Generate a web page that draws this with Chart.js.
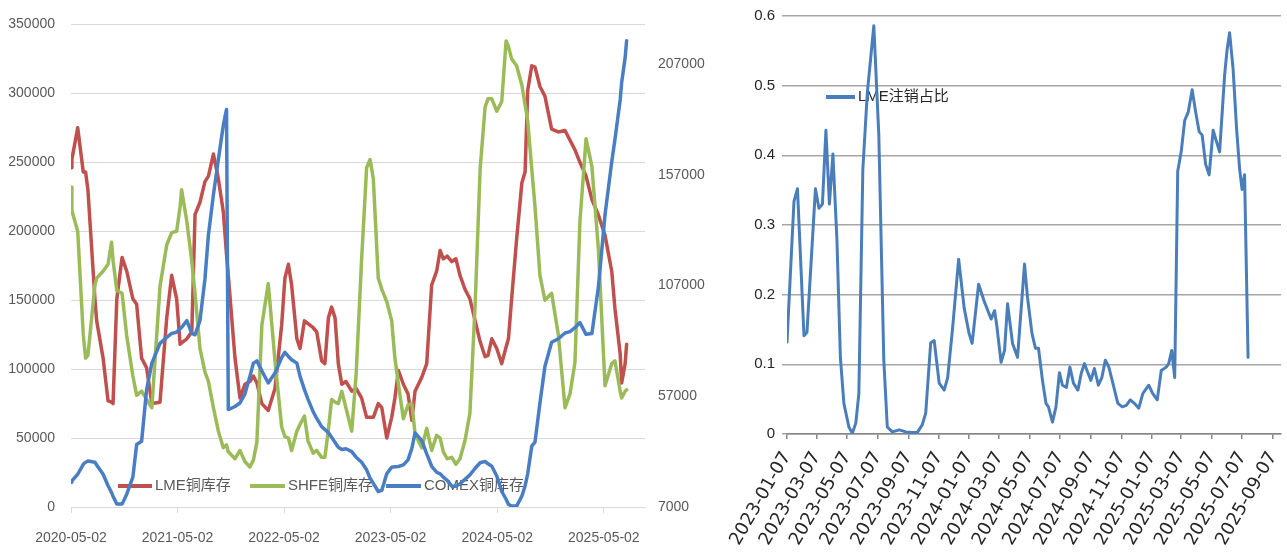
<!DOCTYPE html>
<html>
<head>
<meta charset="utf-8">
<title>铜库存与LME注销占比</title>
<script src="https://cdn.jsdelivr.net/npm/chart.js@4.4.1/dist/chart.umd.min.js"></script>
<style>
  html, body { margin: 0; padding: 0; background: #fff; }
  #wrap { position: relative; width: 1287px; height: 552px; overflow: hidden; }
  #stockChart { position: absolute; left: 0; top: 0; }
  #ratioChart { position: absolute; left: 712px; top: 0; }
</style>
</head>
<body>
<div id="wrap">
  <canvas id="stockChart" width="712" height="552"></canvas>
  <canvas id="ratioChart" width="575" height="552"></canvas>
</div>
<script>
// ---- left chart: copper stocks (LME / SHFE on left axis, COMEX on right axis)
var stockDates = [
  '2020-05-02','2020-05-05','2020-05-25','2020-06-13','2020-06-21','2020-06-29','2020-07-23','2020-07-29','2020-08-20','2020-09-06',
  '2020-09-18','2020-09-23','2020-10-06','2020-10-24','2020-11-09','2020-11-30','2020-12-13','2020-12-30','2021-01-16','2021-02-03',
  '2021-03-03','2021-03-26','2021-04-12','2021-04-29','2021-05-11','2021-05-16','2021-06-03','2021-06-20','2021-07-01','2021-07-18',
  '2021-08-04','2021-08-16','2021-09-02','2021-09-19','2021-10-06','2021-10-17','2021-10-23','2021-11-15','2021-12-02','2021-12-19',
  '2022-01-05','2022-01-17','2022-01-29','2022-02-15','2022-03-09','2022-04-01','2022-04-24','2022-05-05','2022-05-17','2022-05-28',
  '2022-06-15','2022-06-26','2022-07-11','2022-07-23','2022-08-10','2022-08-22','2022-09-08','2022-09-19','2022-10-01','2022-10-12',
  '2022-10-24','2022-11-04','2022-11-16','2022-11-30','2022-12-20','2023-01-04','2023-01-23','2023-02-09','2023-02-21','2023-03-04',
  '2023-03-21','2023-04-02','2023-04-19','2023-05-06','2023-05-17','2023-05-29','2023-06-15','2023-07-01','2023-07-14','2023-07-25',
  '2023-08-17','2023-09-03','2023-09-20','2023-10-07','2023-10-19','2023-10-30','2023-11-12','2023-11-28','2023-12-12','2023-12-26',
  '2024-01-12','2024-01-29','2024-02-16','2024-03-04','2024-03-21','2024-03-31','2024-04-13','2024-04-30','2024-05-17','2024-06-01',
  '2024-06-09','2024-06-20','2024-07-07','2024-07-25','2024-08-05','2024-08-14','2024-08-28','2024-09-08','2024-09-25','2024-10-12',
  '2024-11-04','2024-11-27','2024-12-20','2025-01-06','2025-01-23','2025-02-09','2025-03-02','2025-03-22','2025-04-13','2025-05-06',
  '2025-05-29','2025-06-09','2025-06-27','2025-07-02','2025-07-14','2025-07-19'
];
var lmeStock = [
  246000,252000,275000,243000,243000,230000,151000,135000,108000,77000,
  76000,75000,151000,181000,171000,151000,147000,108000,101000,75000,
  76000,137000,168000,151000,118000,119000,122000,127000,212000,221000,
  236000,240000,256000,238000,214000,183000,168000,108000,79000,89000,
  91000,95000,90000,75000,70000,86000,132000,166000,176000,161000,
  122000,115000,135000,133000,130000,127000,106000,104000,137000,145000,
  137000,104000,89000,91000,84000,86000,79000,65000,65000,65000,
  75000,72000,50000,65000,79000,99000,89000,82000,63000,84000,
  94000,104000,161000,171000,186000,180000,182000,178000,180000,168000,
  158000,151000,135000,120000,109000,110000,122000,115000,104000,116000,
  122000,151000,194000,235000,243000,302000,320000,319000,305000,298000,
  274000,272000,273000,266000,259000,250000,240000,223000,212000,197000,
  171000,144000,111000,90000,104000,118000
];
var shfeStock = [
  232000,215000,200000,125000,108000,110000,161000,166000,171000,176000,
  192000,179000,157000,155000,124000,95000,81000,84000,78000,72000,
  160000,190000,199000,200000,218000,230000,207000,178000,155000,115000,
  98000,91000,72000,55000,43000,45000,40000,35000,41000,33000,
  29000,34000,47000,132000,162000,106000,58000,51000,50000,41000,
  55000,60000,66000,48000,39000,41000,36000,36000,56000,78000,
  76000,75000,84000,72000,55000,96000,180000,246000,252000,238000,
  166000,158000,149000,135000,108000,89000,64000,74000,75000,53000,
  43000,57000,41000,52000,50000,40000,35000,36000,31000,35000,
  48000,68000,147000,245000,290000,296000,296000,287000,294000,338000,
  334000,325000,320000,306000,292000,280000,245000,218000,168000,150000,
  155000,125000,72000,82000,105000,207000,267000,247000,188000,88000,
  104000,106000,84000,79000,84000,85000
];
var comexStock = [
  18200,18800,21800,26300,27200,27800,27200,26000,21800,16600,
  13500,11900,8300,8300,12800,20500,35200,36700,59900,72000,
  80900,83600,85400,86000,87500,88100,91200,85400,84800,91200,
  110000,130000,148000,164000,179500,186600,51000,52400,54000,58000,
  66000,72000,73000,68500,63000,67500,74500,76900,75000,73500,
  72000,66000,60000,55700,50000,47000,43300,42000,40600,38500,
  36100,34000,33000,33300,32000,29500,27200,23800,20000,17700,
  14000,14500,22000,25000,25200,25300,26000,28300,33500,40500,
  37000,31000,25400,22700,22000,20500,19000,16400,16400,17500,
  19500,21500,24500,27000,27600,26500,25400,21000,14000,10500,
  8200,7400,7400,11900,16500,22000,34500,36300,54000,70500,
  81400,83000,85600,86200,88000,90300,85000,85400,106000,139000,
  162900,173000,191000,198700,210000,217600
];
var stockTickDates = ['2020-05-02','2021-05-02','2022-05-02','2023-05-02','2024-05-02','2025-05-02'];
var stockAxisEnd = '2025-09-20';
var comexTicks = [7000, 57000, 107000, 157000, 207000];

// ---- right chart: LME cancelled warrant ratio
var cancelDates = [
  '2023-01-07','2023-01-21','2023-01-28','2023-02-10','2023-02-16','2023-03-05','2023-03-12','2023-03-19','2023-03-26','2023-04-02',
  '2023-04-09','2023-04-17','2023-04-24','2023-05-01','2023-05-11','2023-05-18','2023-05-25','2023-05-31','2023-06-08','2023-06-17',
  '2023-06-30','2023-07-10','2023-07-20','2023-07-27','2023-08-06','2023-08-20','2023-09-02','2023-09-15','2023-09-25','2023-10-05',
  '2023-10-12','2023-10-22','2023-10-29','2023-11-08','2023-11-18','2023-11-25','2023-12-05','2023-12-17','2023-12-28','2024-01-07',
  '2024-01-13','2024-01-26','2024-02-06','2024-02-20','2024-02-27','2024-03-02','2024-03-11','2024-03-18','2024-03-24','2024-04-03',
  '2024-04-13','2024-04-27','2024-05-03','2024-05-12','2024-05-19','2024-05-25','2024-06-02','2024-06-09','2024-06-14','2024-06-22',
  '2024-06-29','2024-07-06','2024-07-12','2024-07-20','2024-07-27','2024-08-03','2024-08-12','2024-08-19','2024-08-25','2024-09-01',
  '2024-09-07','2024-09-14','2024-09-22','2024-09-29','2024-10-06','2024-10-13','2024-10-21','2024-10-31','2024-11-09','2024-11-17',
  '2024-11-25','2024-12-03','2024-12-12','2024-12-20','2025-01-01','2025-01-09','2025-01-18','2025-01-26','2025-02-05','2025-02-10',
  '2025-02-16','2025-02-22','2025-02-28','2025-03-07','2025-03-14','2025-03-21','2025-03-29','2025-04-05','2025-04-12','2025-04-18',
  '2025-04-25','2025-05-02','2025-05-10','2025-05-17','2025-05-23','2025-06-02','2025-06-07','2025-06-12','2025-06-19','2025-06-26',
  '2025-07-02','2025-07-07','2025-07-12','2025-07-19'
];
var cancelRatio = [
  0.132,0.334,0.352,0.141,0.146,0.352,0.324,0.330,0.436,0.330,
  0.402,0.280,0.110,0.044,0.010,0.001,0.016,0.058,0.380,0.490,
  0.586,0.429,0.106,0.010,0.003,0.006,0.003,0.002,0.002,0.013,
  0.030,0.131,0.134,0.073,0.063,0.081,0.153,0.251,0.181,0.144,
  0.130,0.215,0.191,0.165,0.177,0.158,0.103,0.120,0.187,0.130,
  0.110,0.244,0.196,0.144,0.123,0.123,0.077,0.044,0.039,0.017,
  0.039,0.088,0.070,0.067,0.096,0.073,0.063,0.088,0.101,0.088,
  0.077,0.094,0.070,0.081,0.106,0.096,0.073,0.044,0.039,0.041,
  0.049,0.044,0.037,0.058,0.070,0.058,0.049,0.091,0.096,0.101,
  0.120,0.081,0.377,0.405,0.450,0.462,0.494,0.462,0.434,0.429,
  0.387,0.372,0.436,0.419,0.405,0.515,0.552,0.576,0.524,0.438,
  0.381,0.351,0.372,0.110
];
var ratioTickDates = ['2023-01-07','2023-03-07','2023-05-07','2023-07-07','2023-09-07','2023-11-07',
  '2024-01-07','2024-03-07','2024-05-07','2024-07-07','2024-09-07','2024-11-07',
  '2025-01-07','2025-03-07','2025-05-07','2025-07-07','2025-09-07'];
var ratioAxisEnd = '2025-09-23';

var numFamily = "'Liberation Sans', Arial, 'Noto Sans CJK SC', sans-serif";
var dateFamily = "'DejaVu Sans', 'Liberation Sans', sans-serif";

function dayNum(s) {
  var p = s.split('-');
  return Date.UTC(+p[0], +p[1] - 1, +p[2]) / 86400000;
}
function toPoints(dates, vals) {
  return dates.map(function (d, i) { return { x: dayNum(d), y: vals[i] }; });
}
function fixedTicks(dates) {
  return function (scale) {
    scale.ticks = dates.map(function (d) { return { value: dayNum(d) }; });
  };
}
// keep the plot edges where the y axes put them
function fixedHeight(h) {
  return function (s) {
    s.height = h;
    s.paddingLeft = 0;
    s.paddingRight = 0;
  };
}

// legend drawn inside the plot, under the lines (like the excel original)
function insideLegend(items, textColor) {
  return {
    id: 'insideLegend',
    beforeDatasetsDraw: function (chart) {
      var ctx = chart.ctx;
      ctx.save();
      items.forEach(function (it) {
        var ds = chart.data.datasets[it.ds];
        ctx.strokeStyle = ds.borderColor;
        ctx.lineWidth = 4;
        ctx.beginPath();
        ctx.moveTo(it.x, it.y);
        ctx.lineTo(it.x + it.len, it.y);
        ctx.stroke();
        ctx.fillStyle = textColor;
        ctx.font = '15px ' + numFamily;
        ctx.textBaseline = 'middle';
        ctx.fillText(ds.label, it.x + it.len + 3, it.y);
      });
      ctx.restore();
    }
  };
}

new Chart(document.getElementById('stockChart'), {
  type: 'line',
  data: {
    datasets: [
      { label: 'LME铜库存', data: toPoints(stockDates, lmeStock), borderColor: '#C0504D', yAxisID: 'y', order: 3 },
      { label: 'SHFE铜库存', data: toPoints(stockDates, shfeStock), borderColor: '#9BBB59', yAxisID: 'y', order: 2 },
      { label: 'COMEX铜库存', data: toPoints(stockDates, comexStock), borderColor: '#4A7EC4', yAxisID: 'y1', order: 1 }
    ]
  },
  options: {
    responsive: false,
    animation: false,
    layout: { padding: { top: 18, left: 0, right: 0, bottom: 0 } },
    elements: {
      point: { radius: 0 },
      line: { borderWidth: 3.5, tension: 0, borderJoinStyle: 'round', borderCapStyle: 'round' }
    },
    plugins: { legend: { display: false }, tooltip: { enabled: false } },
    scales: {
      x: {
        type: 'linear',
        min: dayNum(stockDates[0]),
        max: dayNum(stockAxisEnd),
        afterBuildTicks: fixedTicks(stockTickDates),
        afterFit: fixedHeight(45),
        ticks: {
          callback: function (v, i) { return stockTickDates[i]; },
          autoSkip: false, maxRotation: 0, minRotation: 0, padding: 17,
          color: '#595959', font: { family: numFamily, size: 14 }
        },
        grid: { drawOnChartArea: false, tickLength: 6, color: '#d9d9d9' },
        border: { color: '#d9d9d9' }
      },
      y: {
        position: 'left',
        min: 0,
        max: 350000,
        afterFit: function (s) { s.width = 71; },
        ticks: {
          stepSize: 50000,
          callback: function (v) { return String(v); },
          padding: 16, color: '#595959', font: { family: numFamily, size: 14 }
        },
        grid: { color: '#d9d9d9', drawTicks: false },
        border: { display: false }
      },
      y1: {
        position: 'right',
        min: 7000,
        max: 225000,
        afterBuildTicks: function (s) { s.ticks = comexTicks.map(function (v) { return { value: v }; }); },
        afterFit: function (s) { s.width = 67; },
        ticks: {
          callback: function (v) { return String(v); },
          padding: 13, color: '#595959', font: { family: numFamily, size: 14 }
        },
        grid: { display: false, drawTicks: false },
        border: { display: false }
      }
    }
  },
  plugins: [insideLegend([
    { ds: 0, x: 118, y: 486, len: 34 },
    { ds: 1, x: 250, y: 486, len: 35 },
    { ds: 2, x: 386, y: 486, len: 35 }
  ], '#595959')]
});

new Chart(document.getElementById('ratioChart'), {
  type: 'line',
  data: {
    datasets: [
      { label: 'LME注销占比', data: toPoints(cancelDates, cancelRatio), borderColor: '#4A7EBB' }
    ]
  },
  options: {
    responsive: false,
    animation: false,
    layout: { padding: { top: 13, left: 0, right: 6, bottom: 0 } },
    elements: {
      point: { radius: 0 },
      line: { borderWidth: 3, tension: 0, borderJoinStyle: 'round', borderCapStyle: 'round' }
    },
    plugins: { legend: { display: false }, tooltip: { enabled: false } },
    scales: {
      x: {
        type: 'linear',
        min: dayNum(ratioTickDates[0]),
        max: dayNum(ratioAxisEnd),
        afterBuildTicks: fixedTicks(ratioTickDates),
        afterFit: fixedHeight(118),
        ticks: {
          callback: function (v, i) { return ratioTickDates[i]; },
          autoSkip: false, maxRotation: 60, minRotation: 60, padding: 9,
          color: '#262626', font: { family: dateFamily, size: 18 }
        },
        grid: { drawOnChartArea: false, tickLength: 5, color: '#868686', lineWidth: 1.5 },
        border: { color: '#868686', width: 1.5 }
      },
      y: {
        min: 0,
        max: 0.6,
        afterFit: function (s) { s.width = 75; },
        ticks: {
          stepSize: 0.1,
          callback: function (v) { return v === 0 ? '0' : v.toFixed(1); },
          padding: 7, color: '#262626', font: { family: numFamily, size: 15 }
        },
        grid: { color: '#a6a6a6', lineWidth: 1.5, tickLength: 5 },
        border: { display: false }
      }
    }
  },
  plugins: [insideLegend([{ ds: 0, x: 114, y: 97, len: 29 }], '#262626')]
});
</script>
</body>
</html>
